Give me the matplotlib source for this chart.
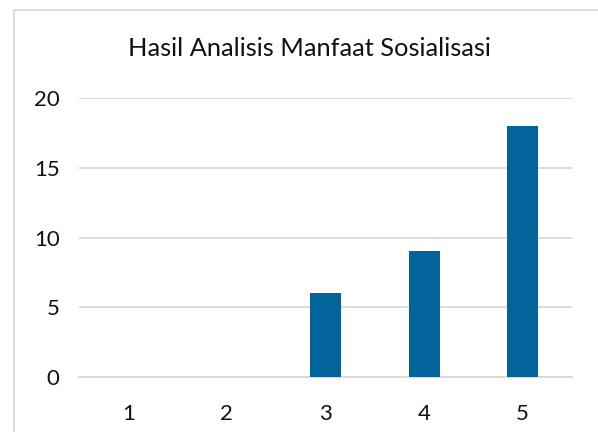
import matplotlib
matplotlib.use("Agg")
import matplotlib.pyplot as plt
from matplotlib.patches import Rectangle

categories = ["1", "2", "3", "4", "5"]
values = [0, 0, 6, 9, 18]
yticks = [0, 5, 10, 15, 20]
title = "Hasil Analisis Manfaat Sosialisasi"

plt.rcParams['font.family'] = ['Lato', 'DejaVu Sans']

W, H = 598, 432
fig = plt.figure(figsize=(W / 100, H / 100), dpi=100)
fig.patch.set_facecolor("white")

# outer chart border
fig.patches.append(Rectangle((14 / W, -0.05), 1.2, (H - 10) / H + 0.05,
                             transform=fig.transFigure, fill=False,
                             edgecolor="#d9d9d9", linewidth=1.3))

ax = fig.add_axes([79 / W, (H - 377.3) / H, (572 - 79) / W, (377.3 - 97.7) / H])
x = list(range(len(categories)))
ax.bar(x, values, width=0.314, color="#02649b", zorder=3)
ax.set_xlim(-0.5, len(categories) - 0.5)
ax.set_ylim(0, 20)
ax.set_yticks(yticks)
ax.set_xticks(x)
ax.set_xticklabels(categories)
ax.grid(axis="y", color="#d9d9d9", linewidth=1.3, zorder=0)
ax.grid(axis="x", visible=False)
for s in ["top", "right", "left"]:
    ax.spines[s].set_visible(False)
ax.spines["bottom"].set_color("#d9d9d9")
ax.spines["bottom"].set_linewidth(1.3)
ax.tick_params(axis="both", length=0, labelsize=16, colors="#111111")
ax.tick_params(axis="y", pad=14)
ax.tick_params(axis="x", pad=19)

fig.text((126 + 492) / 2 / W, (H - 48) / H, title, ha="center", va="center",
         fontsize=18.3, color="#111111")

fig.savefig("out.png", dpi=100)
